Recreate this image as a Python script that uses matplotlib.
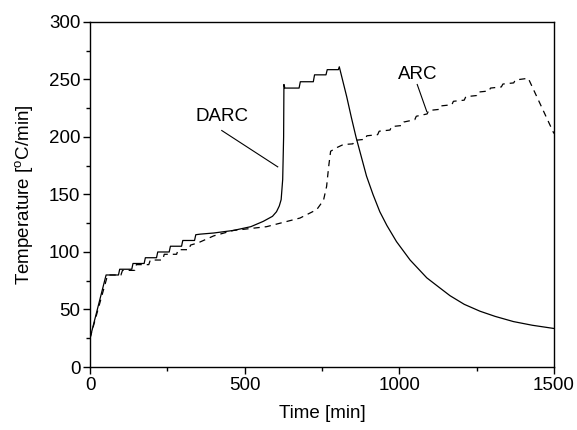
"""
plot.py
DARC vs ARC temperature history
"""

from matplotlib import pyplot as plt
from matplotlib.ticker import MultipleLocator

plt.rcParams['font.family'] = ['Liberation Sans', 'DejaVu Sans']
plt.rcParams['mathtext.fontset'] = 'custom'
plt.rcParams['mathtext.rm'] = 'Liberation Sans'

# DARC (solid)
darc_time = [0, 52, 92, 96, 135, 139, 175, 179, 215, 219, 256, 260, 296, 300, 338, 342,
             356, 400, 463, 520, 560, 590, 603, 612, 618, 623, 626, 627, 630, 676, 680,
             722, 726, 763, 767, 803, 806, 818, 830, 845, 860, 875, 894, 915, 937, 960,
             991, 1035, 1089, 1130, 1164, 1210, 1261, 1310, 1369, 1430, 1500]
darc_temp = [25, 80, 80, 85, 85, 90, 90, 95, 95, 100, 100, 105, 105, 110, 110, 115,
             115.5, 116.5, 118.7, 122, 126.6, 131, 135, 140, 145.5, 163, 200, 245.6, 242.5, 242.5, 248,
             248, 254, 254, 258.5, 258.5, 261, 248, 235, 217, 200, 185, 166, 150, 135, 123,
             109, 93, 77.5, 69, 62, 54.5, 48.5, 44, 39.5, 36.3, 33.5]

# ARC (dashed)
arc_time = [0, 57, 100, 105, 145, 150, 190, 195, 235, 240, 280, 285, 320, 325, 350,
            400, 463, 571, 679, 733, 755, 765, 772, 778, 800, 819, 850, 855, 890, 895,
            930, 935, 970, 975, 1010, 1015, 1050, 1055, 1090, 1095, 1130, 1135, 1170,
            1175, 1210, 1215, 1250, 1255, 1290, 1295, 1330, 1335, 1370, 1375, 1417, 1500]
arc_temp = [25, 80, 80, 84, 84, 89, 89, 93, 93, 98, 98, 102, 102, 106, 108,
            114, 118.7, 122, 129.5, 136.8, 145, 157, 175, 187.6, 191, 193.4, 194, 197, 198, 201,
            202, 205, 206, 209, 210, 213, 215, 218, 220, 223, 224, 227, 228,
            231, 232, 235, 236, 239, 240, 242.5, 243.5, 246, 247, 249.5, 251, 203]

FONTSIZE = 13.5
LINEWIDTH = 0.9

fig = plt.figure(figsize=(5.77, 4.30), dpi=100)
ax = fig.add_axes([0.156, 0.1465, 0.804, 0.8025])

ax.plot(darc_time, darc_temp, color='black', linewidth=LINEWIDTH)
ax.plot(arc_time, arc_temp, color='black', linewidth=LINEWIDTH, linestyle=(0, (5, 4)))

ax.set_xlim(0, 1500)
ax.set_ylim(0, 300)
ax.xaxis.set_major_locator(MultipleLocator(500))
ax.xaxis.set_minor_locator(MultipleLocator(250))
ax.yaxis.set_major_locator(MultipleLocator(50))
ax.yaxis.set_minor_locator(MultipleLocator(25))
ax.tick_params(which='major', direction='out', length=5, width=1, labelsize=FONTSIZE, pad=2)
ax.tick_params(which='minor', direction='out', length=3, width=1)
for spine in ax.spines.values():
    spine.set_linewidth(1)

ax.set_xlabel('Time [min]', fontsize=FONTSIZE, labelpad=8)
ax.set_ylabel(r'Temperature [$^{\mathrm{o}}$C/min]', fontsize=FONTSIZE, labelpad=9)

# labels with leader lines
ax.text(426, 218, 'DARC', fontsize=FONTSIZE, ha='center', va='center')
ax.plot([426, 607], [205.6, 174], color='black', linewidth=0.8)
ax.text(1061, 254, 'ARC', fontsize=FONTSIZE, ha='center', va='center')
ax.plot([1058, 1089], [245.6, 222], color='black', linewidth=0.8)

fig.savefig('out.png', dpi=100)
